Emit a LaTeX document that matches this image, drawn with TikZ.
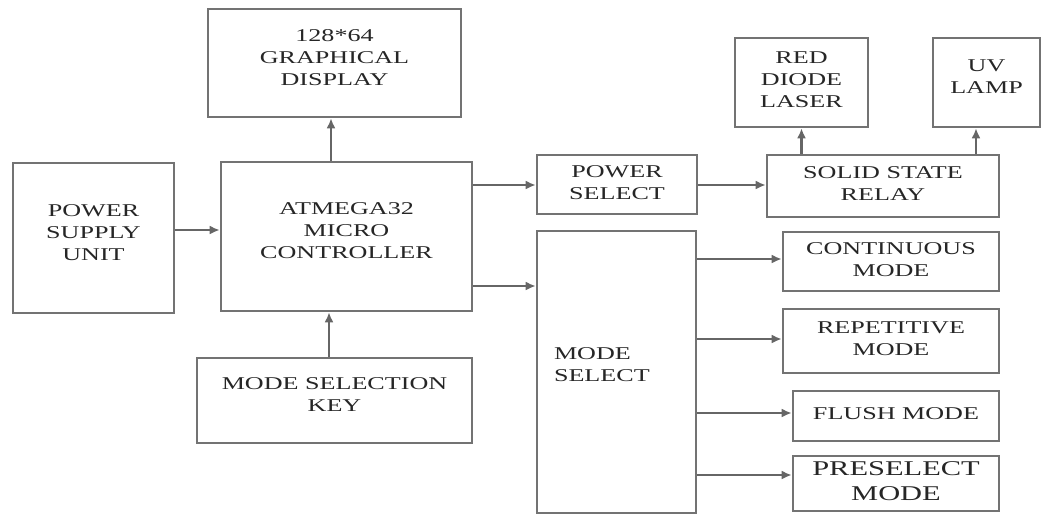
\documentclass[tikz,border=0pt]{standalone}
\usepackage{fontspec}
\setmainfont[FakeStretch=1.45]{Liberation Serif}
\usetikzlibrary{arrows.meta,positioning}

\begin{document}
\begin{tikzpicture}[x=0.5pt, y=-0.5pt,
  blk/.style={draw=black!55, line width=1.3pt, align=center, inner sep=0pt,
    text depth=2pt, font=\fontsize{9}{11}\selectfont, text=black!85},
  arr/.style={draw=black!60, line width=1.2pt, -{Latex[length=5pt,width=4.5pt]}}]
  \useasboundingbox (0,0) rectangle (1048,515);

  % left column: supply, controller, display, key
  \node[blk, minimum width=126.5pt, minimum height=54pt, text depth=5.5pt]
       (disp) at (334.5,63) {128*64\\GRAPHICAL\\DISPLAY};
  \node[blk, minimum width=80.5pt, minimum height=75pt, text depth=5.5pt]
       (psu) at (93.5,238) {POWER\\SUPPLY\\UNIT};
  \node[blk, minimum width=125.5pt, minimum height=74.5pt, text depth=5.5pt]
       (mcu) at (346.5,236.5) {ATMEGA32\\MICRO\\CONTROLLER};
  \node[blk, minimum width=137.5pt, minimum height=42.5pt, text depth=5.5pt]
       (key) at (334.5,400.5) {MODE SELECTION\\KEY};

  % middle column
  \node[blk, minimum width=80pt, minimum height=29.5pt] (psel) at (617,184.5)
       {POWER\\SELECT};
  \node[blk, minimum height=141pt, text width=62.5pt, inner xsep=8.5pt,
        align=left, text depth=18pt] (msel) at (616.5,372) {MODE\\SELECT};

  % right column
  \node[blk, minimum width=66.5pt, minimum height=44.5pt, text depth=3pt]
       (laser) at (801.5,82.5) {RED\\DIODE\\LASER};
  \node[blk, minimum width=53.5pt, minimum height=44.5pt, text depth=5.5pt]
       (uv) at (986.5,82.5) {UV\\LAMP};
  \node[blk, minimum width=116pt, minimum height=31pt] (ssr) at (883,186)
       {SOLID STATE\\RELAY};
  \node[blk, minimum width=108pt, minimum height=29.5pt] (cont) at (891,261.5)
       {CONTINUOUS\\MODE};
  \node[blk, minimum width=108pt, minimum height=32pt] (rep) at (891,341)
       {REPETITIVE\\MODE};
  \node[blk, minimum width=103pt, minimum height=25pt] (flush) at (896,416)
       {FLUSH MODE};
  \node[blk, minimum width=103pt, minimum height=27.5pt,
        font=\fontsize{10.5}{12.5}\selectfont] (pre) at (896,483.5)
       {PRESELECT\\MODE};

  % connectors
  \draw[arr] (psu.east |- 0,230) -- (mcu.west |- 0,230);
  \draw[arr] (mcu.north -| 331,0) -- (disp.south -| 331,0);
  \draw[arr] (key.north -| 329,0) -- (mcu.south -| 329,0);
  \draw[arr] (mcu.east |- 0,185) -- (psel.west |- 0,185);
  \draw[arr] (mcu.east |- 0,286) -- (msel.west |- 0,286);
  \draw[arr] (psel.east |- 0,185) -- (ssr.west |- 0,185);
  \draw[arr] (ssr.north -| laser.south) -- (laser.south);
  \draw[arr] (ssr.north -| 976,0) -- (uv.south -| 976,0);
  \foreach \m/\yy in {cont/259, rep/339, flush/413, pre/475}
    \draw[arr] (msel.east |- 0,\yy) -- (\m.west |- 0,\yy);
\end{tikzpicture}
\end{document}
